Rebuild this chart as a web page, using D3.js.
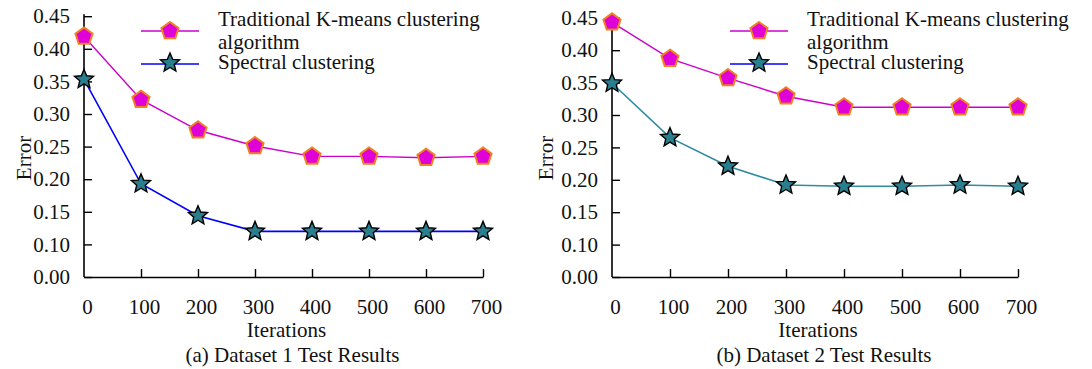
<!DOCTYPE html>
<html>
<head>
<meta charset="utf-8">
<script src="https://cdn.jsdelivr.net/npm/d3@7"></script>
<style>
  body { margin: 0; background: #fff; }
  text { font-family: "Liberation Serif", "Times New Roman", serif; fill: #111; }
</style>
</head>
<body>
<svg id="chart" width="1092" height="369"></svg>
<script>
var iterations = [0, 100, 200, 300, 400, 500, 600, 700];
var yTicks = [0, 0.10, 0.15, 0.20, 0.25, 0.30, 0.35, 0.40, 0.45];

var kmeans1   = [0.419, 0.322, 0.275, 0.251, 0.235, 0.235, 0.233, 0.235];
var spectral1 = [0.353, 0.193, 0.144, 0.120, 0.120, 0.120, 0.120, 0.120];
var kmeans2   = [0.443, 0.387, 0.357, 0.329, 0.312, 0.312, 0.312, 0.312];
var spectral2 = [0.349, 0.265, 0.221, 0.192, 0.190, 0.190, 0.192, 0.190];

var seriesNames = ["Traditional K-means clustering", "algorithm", "Spectral clustering"];
var captions = ["(a) Dataset 1 Test Results", "(b) Dataset 2 Test Results"];

var fs = 21;
var svg = d3.select("#chart");

function star(r) {
  var pts = [];
  for (var i = 0; i < 10; i++) {
    var a = -Math.PI / 2 + i * Math.PI / 5, rr = i % 2 ? r * 0.45 : r;
    pts.push([rr * Math.cos(a), rr * Math.sin(a)]);
  }
  return "M" + pts.join("L") + "Z";
}
function pentagon(r) {
  var pts = [];
  for (var i = 0; i < 5; i++) {
    var a = -Math.PI / 2 + i * 2 * Math.PI / 5;
    pts.push([r * Math.cos(a), r * Math.sin(a)]);
  }
  return "M" + pts.join("L") + "Z";
}

function drawPanel(p) {
  var g = svg.append("g").attr("transform", "translate(" + p.left + ",0)");
  var x = d3.scaleLinear().domain([0, 700]).range([0, p.width]);
  // broken axis: 0.00 sits one step below 0.10
  var y = d3.scaleLinear().domain([0, 0.10, 0.45]).range([p.base, p.base - p.step, p.base - 8 * p.step]);

  var yAxis = d3.axisLeft(y).tickValues(yTicks).tickFormat(d3.format(".2f"))
      .tickSizeInner(-8).tickSizeOuter(0).tickPadding(14);
  var gy = g.append("g").call(yAxis);
  gy.select(".domain").attr("d", "M0," + (p.base - 8 * p.step - 2) + "V" + p.base).attr("stroke", "#000").attr("stroke-width", 1.6);
  gy.selectAll(".tick line").attr("stroke", "#000").attr("stroke-width", 1.4);
  gy.selectAll(".tick text").attr("font-size", fs).attr("x", -14);

  var xAxis = d3.axisBottom(x).tickValues(iterations).tickSizeInner(-8).tickSizeOuter(0).tickPadding(22);
  var gx = g.append("g").attr("transform", "translate(0," + p.base + ")").call(xAxis);
  gx.select(".domain").attr("stroke", "#000").attr("stroke-width", 1.6);
  gx.selectAll(".tick line").attr("stroke", "#000").attr("stroke-width", 1.4);
  gx.selectAll(".tick text").attr("font-size", fs).attr("dy", "0.71em").attr("dx", 3);
  gx.selectAll(".tick").filter(function(d) { return d === 0; }).select("line").remove();

  g.append("text").attr("x", p.width / 2 + 3).attr("y", 337).attr("text-anchor", "middle")
    .attr("font-size", fs).text("Iterations");
  g.append("text").attr("x", p.width / 2 + 9).attr("y", 362).attr("text-anchor", "middle")
    .attr("font-size", fs).text(p.caption);
  g.append("text").attr("transform", "translate(" + p.errX + ",158) rotate(-90)")
    .attr("text-anchor", "middle").attr("font-size", fs).text("Error");

  var line = d3.line().x(function(d, i) { return x(iterations[i]); }).y(function(d) { return y(d); });

  g.append("path").datum(p.kmeans).attr("d", line).attr("fill", "none")
    .attr("stroke", "#cc00cc").attr("stroke-width", 1.4);
  g.append("path").datum(p.spectral).attr("d", line).attr("fill", "none")
    .attr("stroke", p.specColor).attr("stroke-width", 1.6);

  g.selectAll(".pent").data(p.kmeans).enter().append("path")
    .attr("transform", function(d, i) { return "translate(" + x(iterations[i]) + "," + y(d) + ")"; })
    .attr("d", pentagon(9)).attr("fill", "#e000d8").attr("stroke", "#f08020").attr("stroke-width", 2);
  g.selectAll(".star").data(p.spectral).enter().append("path")
    .attr("transform", function(d, i) { return "translate(" + x(iterations[i]) + "," + y(d) + ")"; })
    .attr("d", star(10)).attr("fill", "#2a7f8f").attr("stroke", "#000").attr("stroke-width", 1.4);

  // legend
  var lg = g.append("g").attr("transform", "translate(" + p.legX + ",0)");
  lg.append("line").attr("x1", 0).attr("x2", 58).attr("y1", 31).attr("y2", 31).attr("stroke", "#cc00cc").attr("stroke-width", 1.4);
  lg.append("path").attr("transform", "translate(29,31)").attr("d", pentagon(9))
    .attr("fill", "#e000d8").attr("stroke", "#f08020").attr("stroke-width", 2);
  lg.append("line").attr("x1", 0).attr("x2", 58).attr("y1", 64).attr("y2", 64).attr("stroke", "#0000ff").attr("stroke-width", 1.6);
  lg.append("path").attr("transform", "translate(29,63)").attr("d", star(10))
    .attr("fill", "#2a7f8f").attr("stroke", "#000").attr("stroke-width", 1.4);
  lg.append("text").attr("x", 77).attr("y", 26).attr("font-size", fs).text(seriesNames[0]);
  lg.append("text").attr("x", 77).attr("y", 49).attr("font-size", fs).text(seriesNames[1]);
  lg.append("text").attr("x", 77).attr("y", 69).attr("font-size", fs).text(seriesNames[2]);
}

drawPanel({ left: 84, width: 399, base: 277, step: 32.6, kmeans: kmeans1, spectral: spectral1,
            specColor: "#0000ff", caption: captions[0], errX: -53, legX: 141 - 84 });
drawPanel({ left: 612, width: 406, base: 277, step: 32.4, kmeans: kmeans2, spectral: spectral2,
            specColor: "#2e8ba0", caption: captions[1], errX: -59, legX: 730 - 612 });
</script>
</body>
</html>
